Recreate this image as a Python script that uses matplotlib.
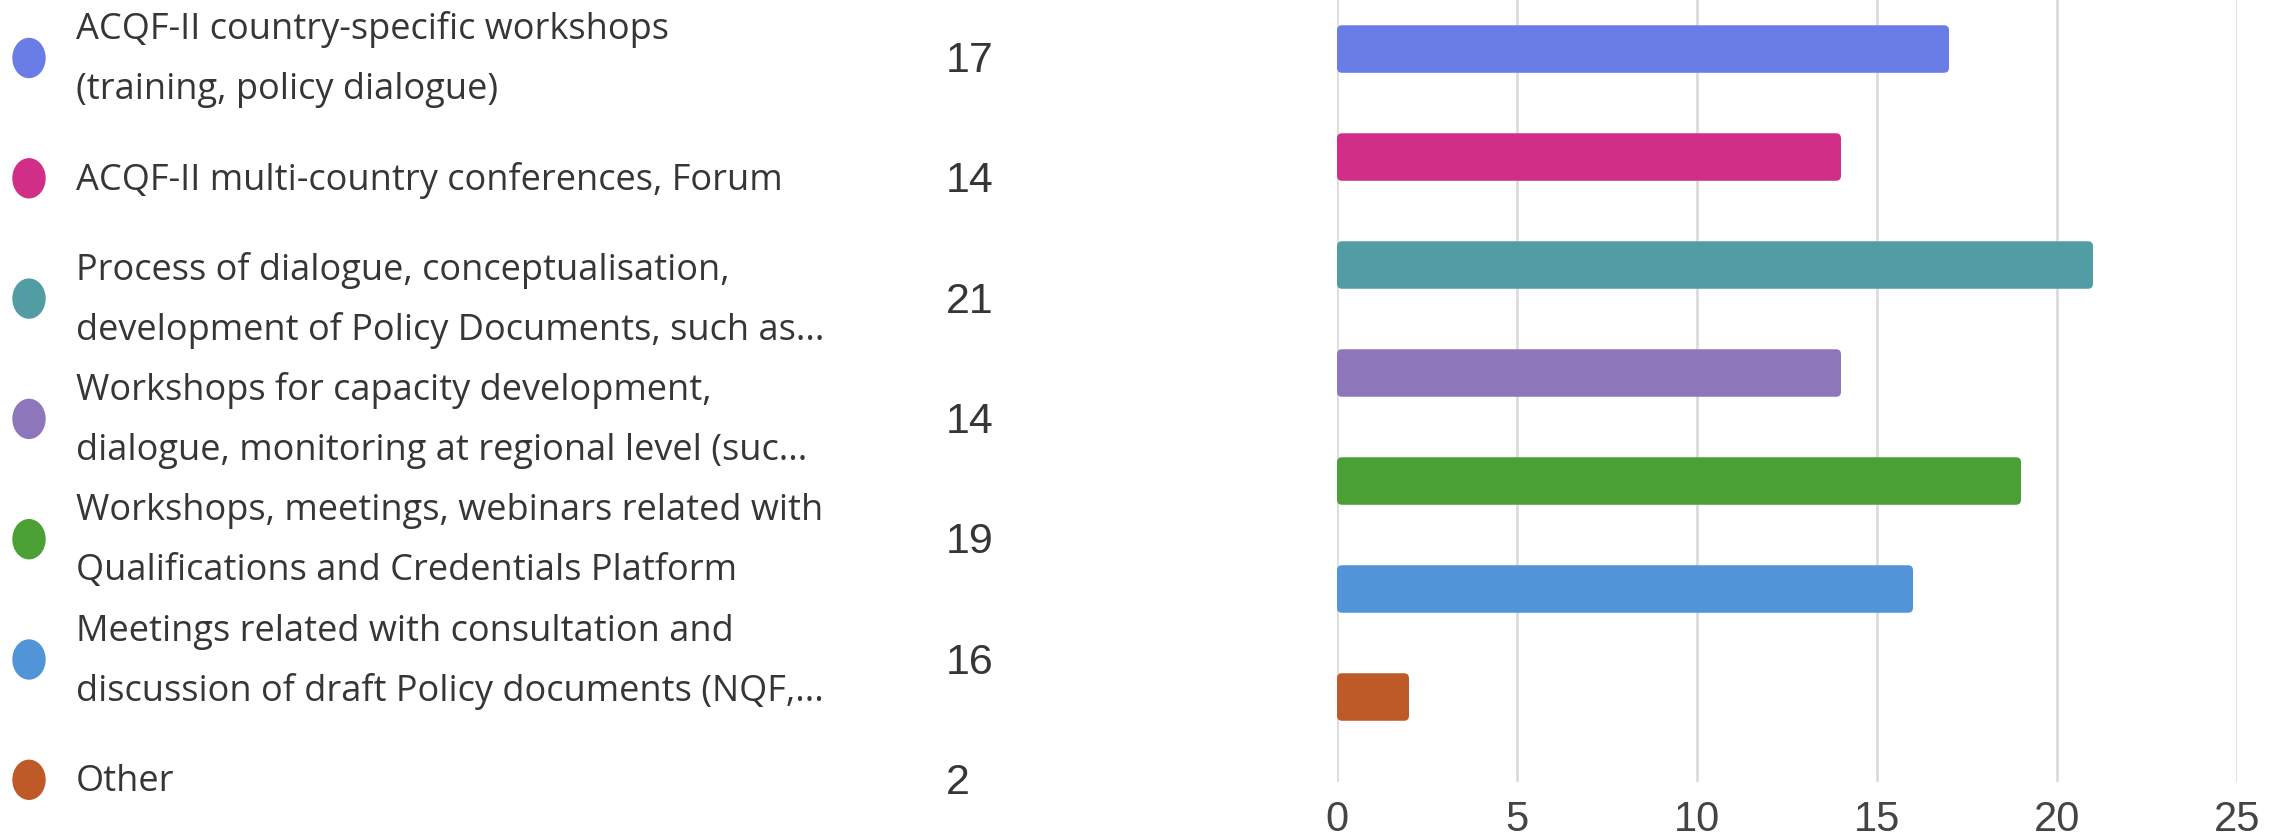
import matplotlib
matplotlib.use('Agg')
import matplotlib.pyplot as plt
from matplotlib.patches import Ellipse, FancyBboxPatch

# data
labels = [
    ["ACQF-II country-specific workshops", "(training, policy dialogue)"],
    ["ACQF-II multi-country conferences, Forum"],
    ["Process of dialogue, conceptualisation,", "development of Policy Documents, such as..."],
    ["Workshops for capacity development,", "dialogue, monitoring at regional level (suc..."],
    ["Workshops, meetings, webinars related with", "Qualifications and Credentials Platform"],
    ["Meetings related with consultation and", "discussion of draft Policy documents (NQF,..."],
    ["Other"],
]
counts = [17, 14, 21, 14, 19, 16, 2]
colors = ["#6a7de6", "#d12e87", "#529da3", "#8e76bb", "#4a9f35", "#5294d8", "#be5a28"]
ticks = [0, 5, 10, 15, 20, 25]

W, H = 2287, 838
fig = plt.figure(figsize=(W / 100, H / 100), dpi=100)
fig.patch.set_facecolor("white")

label_font = ["Open Sans", "DejaVu Sans"]
num_font = ["Liberation Sans Narrow", "Liberation Sans", "DejaVu Sans"]
txt_color = "#363636"

# bar chart on the right
ax = fig.add_axes([1337 / W, 1 - 782 / H, 900 / W, 782 / H])
pos = list(range(len(counts)))
bars = ax.barh(pos, counts, height=0.44, color=colors, zorder=3)
ax.set_xlim(0, 25)
ax.set_ylim(6.787, -0.454)

# swap the plain rectangles for rounded ones (radius ~5px)
px_x = 900 / 25
px_y = 782 / (6.787 + 0.454)
for rect in bars:
    x0, y0 = rect.get_x(), rect.get_y()
    w, h = rect.get_width(), rect.get_height()
    rect.set_visible(False)
    ax.add_patch(FancyBboxPatch((x0, y0), w, h,
                                boxstyle="round,pad=0,rounding_size=%f" % (5 / px_x),
                                mutation_aspect=px_x / px_y,
                                facecolor=rect.get_facecolor(), edgecolor="none", zorder=3))

ax.set_xticks(ticks)
ax.set_xticklabels([str(t) for t in ticks], family=num_font, fontsize=30, color="#444444")
ax.grid(axis="x", color="#dcdcdc", linewidth=2, zorder=0)
ax.set_yticks([])
for s in ax.spines.values():
    s.set_visible(False)
ax.tick_params(axis="x", length=0, pad=13)

# legend list on the left
row_top = 58
row_step = 120.3
for i, (lines, n, c) in enumerate(zip(labels, counts, colors)):
    yc = row_top + i * row_step
    fig.add_artist(Ellipse((29 / W, 1 - yc / H), 32 / W, 39 / H,
                           transform=fig.transFigure, color=c))
    if len(lines) == 1:
        offs = [2]
    else:
        offs = [-28, 32]
    for line, off in zip(lines, offs):
        fig.text(76 / W, 1 - (yc + off) / H, line, family=label_font,
                 fontsize=26, color=txt_color, ha="left", va="center")
    fig.text(946 / W, 1 - (yc + 3) / H, str(n), family=num_font,
             fontsize=31, color=txt_color, ha="left", va="center")

fig.savefig("out.png", dpi=100)
